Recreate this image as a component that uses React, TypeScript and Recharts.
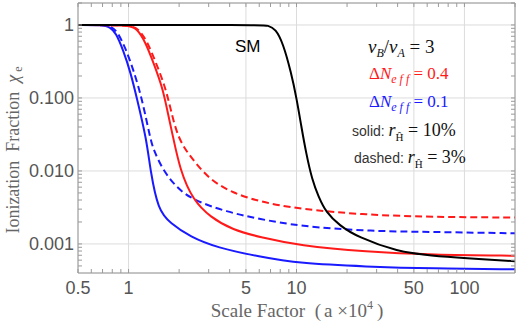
import React from "react";
import { LineChart, Line, XAxis, YAxis, CartesianGrid } from "recharts";

// axis ticks
const xMajor = [0.5, 1, 5, 10, 50, 100];
const xMinor = [0.6, 0.7, 0.8, 0.9, 2, 3, 4, 6, 7, 8, 9, 20, 30, 40, 60, 70, 80, 90, 200];
const xGrid = [1, 5, 10, 50, 100];
const yMajor = [0.001, 0.01, 0.1, 1];
const yMinor = [0.0005, 0.0006, 0.0007, 0.0008, 0.0009, 0.002, 0.003, 0.004, 0.005, 0.006, 0.007, 0.008, 0.009,
  0.02, 0.03, 0.04, 0.05, 0.06, 0.07, 0.08, 0.09, 0.2, 0.3, 0.4, 0.5, 0.6, 0.7, 0.8, 0.9, 2];
const yLabels: Record<string, string> = { "0.001": "0.001", "0.01": "0.010", "0.1": "0.100", "1": "1" };

// SM
const smX = [0.5, 6, 6.8, 7.5, 8.3, 9.3, 10, 10.7, 11.4, 12.4, 13.5, 15, 18, 23, 40, 64, 100, 200];
const smY = [1, 1, 0.99, 0.88, 0.57, 0.22, 0.1, 0.04, 0.0177, 0.0075, 0.0045, 0.0027, 0.0018, 0.00125, 0.00078, 0.00069, 0.00064, 0.00058];

// dNeff = 0.4, r = 10% (solid)
const redSolidX = [0.5, 1.0, 1.12, 1.26, 1.41, 1.59, 1.7, 1.82, 2.03, 2.42, 3.06, 4.18, 6, 10.4, 26, 64, 200];
const redSolidY = [1, 1, 0.9, 0.585, 0.3, 0.14, 0.068, 0.033, 0.01, 0.004, 0.00234, 0.00155, 0.00125, 0.00095, 0.00078, 0.00071, 0.00069];

// dNeff = 0.4, r = 3% (dashed)
const redDashX = [0.5, 1.02, 1.14, 1.29, 1.45, 1.64, 1.77, 1.97, 2.42, 3.06, 4.18, 6, 10.4, 26, 64, 200];
const redDashY = [1, 1, 0.9, 0.6, 0.31, 0.15, 0.075, 0.027, 0.0141, 0.0075, 0.005, 0.0038, 0.003, 0.0025, 0.00234, 0.0023];

// dNeff = 0.1, r = 10% (solid)
const blueSolidX = [0.5, 0.7, 0.78, 0.84, 0.93, 1.03, 1.12, 1.28, 1.35, 1.5, 1.77, 2.33, 3.36, 6, 10.4, 26, 64, 200];
const blueSolidY = [1, 1, 0.93, 0.78, 0.45, 0.22, 0.1, 0.027, 0.01, 0.0029, 0.00193, 0.00125, 0.00089, 0.00067, 0.00054, 0.00049, 0.00046, 0.00045];

// dNeff = 0.1, r = 3% (dashed)
const blueDashX = [0.5, 0.72, 0.8, 0.86, 0.96, 1.07, 1.2, 1.35, 1.41, 1.61, 1.95, 2.42, 3.85, 6, 10.4, 26, 64, 200];
const blueDashY = [1, 1, 0.93, 0.8, 0.48, 0.24, 0.1, 0.027, 0.0194, 0.01, 0.0058, 0.004, 0.00274, 0.0022, 0.00175, 0.0015, 0.00146, 0.0014];

const toPts = (xs: number[], ys: number[]) => xs.map((x, i) => ({ x, y: ys[i] }));

const RED = "#ff1a1a";
const BLUE = "#1a1aff";
const FRAME = "#9a9a9a";
const TICK = "#555";
const SERIF = "'Liberation Serif', 'DejaVu Serif', serif";
const SANS = "'Liberation Sans', Arial, sans-serif";

const NoTick = () => <g />;

const XTick = (props: any) => {
  const { x, y, payload } = props;
  if (!xMajor.includes(payload.value)) return <g />;
  return (
    <text x={x} y={y} dy="0.71em" textAnchor="middle" fill={TICK} fontSize={18} fontFamily={SANS}>
      {String(payload.value)}
    </text>
  );
};

const YTick = (props: any) => {
  const { x, y, payload } = props;
  const label = yLabels[String(payload.value)];
  if (!label) return <g />;
  return (
    <text x={x} y={y} dy="0.36em" textAnchor="end" fill={TICK} fontSize={18} fontFamily={SANS}>
      {label}
    </text>
  );
};

const xCommon = { dataKey: "x", type: "number" as const, scale: "log" as const, domain: [0.5, 200], allowDataOverflow: true, interval: 0 as const };
const yCommon = { dataKey: "y", type: "number" as const, scale: "log" as const, domain: [0.0004, 2], allowDataOverflow: true, interval: 0 as const };

export default function App() {
  const xTicks = [...xMajor, ...xMinor].sort((a, b) => a - b);
  const yTicks = [...yMajor, ...yMinor].sort((a, b) => a - b);
  const series = [
    { key: "bs", xs: blueSolidX, ys: blueSolidY, color: BLUE, dash: undefined },
    { key: "bd", xs: blueDashX, ys: blueDashY, color: BLUE, dash: "7 4" },
    { key: "rs", xs: redSolidX, ys: redSolidY, color: RED, dash: undefined },
    { key: "rd", xs: redDashX, ys: redDashY, color: RED, dash: "7 4" },
    { key: "sm", xs: smX, ys: smY, color: "#000", dash: undefined },
  ];

  return (
    <div style={{ position: "absolute", left: 0, top: 0, width: 518, height: 327, background: "#fff" }}>
      <LineChart width={518} height={327} margin={{ top: 2, right: 2, bottom: 0, left: 0 }}>
        {/* axes holding only the major ticks, used for the grid */}
        <XAxis xAxisId="g" orientation="top" {...xCommon} ticks={xGrid} height={0} axisLine={false} tickLine={false} tick={NoTick} />
        <YAxis yAxisId="g" orientation="right" {...yCommon} ticks={yMajor} width={0} axisLine={false} tickLine={false} tick={NoTick} />
        <CartesianGrid xAxisId="g" yAxisId="g" stroke="#dcdcdc" strokeWidth={1} />

        <XAxis xAxisId="b" {...xCommon} ticks={xTicks} height={54} stroke={FRAME} tickSize={-4} tickMargin={12} tick={XTick} />
        <XAxis xAxisId="t" orientation="top" {...xCommon} ticks={xTicks} height={1} stroke={FRAME} tickSize={-4} tick={NoTick} />
        <YAxis yAxisId="l" {...yCommon} ticks={yTicks} width={78} stroke={FRAME} tickSize={-4} tickMargin={8} tick={YTick} />
        <YAxis yAxisId="r" orientation="right" {...yCommon} ticks={yTicks} width={1} stroke={FRAME} tickSize={-4} tick={NoTick} />

        {series.map((s) => (
          <Line
            key={s.key}
            xAxisId="b"
            yAxisId="l"
            data={toPts(s.xs, s.ys)}
            dataKey="y"
            type="basis"
            stroke={s.color}
            strokeWidth={2}
            strokeDasharray={s.dash}
            dot={false}
            isAnimationActive={false}
          />
        ))}
      </LineChart>

      <svg width={518} height={327} style={{ position: "absolute", left: 0, top: 0, pointerEvents: "none" }}>
        {/* axis titles */}
        <text x={19} y={150} transform="rotate(-90 19 150)" textAnchor="middle" fill="#666" fontSize={18} fontFamily={SERIF}>
          Ionization{"\u00a0\u00a0"}Fraction{"\u00a0\u00a0"}
          <tspan fontStyle="italic">χ</tspan>
          <tspan fontSize={12} dx={3} dy={3}>e</tspan>
        </text>
        <text x={297} y={317} textAnchor="middle" fill="#666" fontSize={19} fontFamily={SERIF}>
          Scale Factor{"\u00a0\u00a0"}(<tspan dx={3}>a ×10</tspan>
          <tspan fontSize={12} dy={-8}>4</tspan>
          <tspan dy={8} dx={4}>)</tspan>
        </text>

        {/* annotations */}
        <text x={235} y={52} fill="#000" fontSize={17} fontFamily={SANS}>SM</text>

        <text x={368} y={53} fill="#111" fontSize={19} fontFamily={SERIF}>
          <tspan fontStyle="italic">v</tspan>
          <tspan fontSize={12} fontStyle="italic" dy={4}>B</tspan>
          <tspan dy={-4}>/</tspan>
          <tspan fontStyle="italic">v</tspan>
          <tspan fontSize={12} fontStyle="italic" dy={4}>A</tspan>
          <tspan dy={-4}>{"\u00a0= 3"}</tspan>
        </text>

        <text x={369} y={79} fill={RED} fontSize={17} fontFamily={SERIF}>
          Δ<tspan fontStyle="italic">N</tspan>
          <tspan fontSize={12} fontStyle="italic" dy={4}>{"e f f"}</tspan>
          <tspan dy={-4}>{"\u00a0= 0.4"}</tspan>
        </text>
        <text x={369} y={107} fill={BLUE} fontSize={17} fontFamily={SERIF}>
          Δ<tspan fontStyle="italic">N</tspan>
          <tspan fontSize={12} fontStyle="italic" dy={4}>{"e f f"}</tspan>
          <tspan dy={-4}>{"\u00a0= 0.1"}</tspan>
        </text>

        <text x={352} y={136} fill="#333" fontSize={14} fontFamily={SANS}>
          solid:{"\u00a0"}
          <tspan fill="#111" fontFamily={SERIF} fontSize={18} fontStyle="italic">r</tspan>
          <tspan fill="#111" fontFamily={SERIF} fontSize={11} dy={5}>Ĥ</tspan>
          <tspan fill="#111" fontFamily={SERIF} fontSize={18} dy={-5}>{"\u00a0= 10%"}</tspan>
        </text>
        <text x={354} y={163} fill="#333" fontSize={14} fontFamily={SANS}>
          dashed:{"\u00a0"}
          <tspan fill="#111" fontFamily={SERIF} fontSize={18} fontStyle="italic">r</tspan>
          <tspan fill="#111" fontFamily={SERIF} fontSize={11} dy={5}>Ĥ</tspan>
          <tspan fill="#111" fontFamily={SERIF} fontSize={18} dy={-5}>{"\u00a0= 3%"}</tspan>
        </text>
      </svg>
    </div>
  );
}
